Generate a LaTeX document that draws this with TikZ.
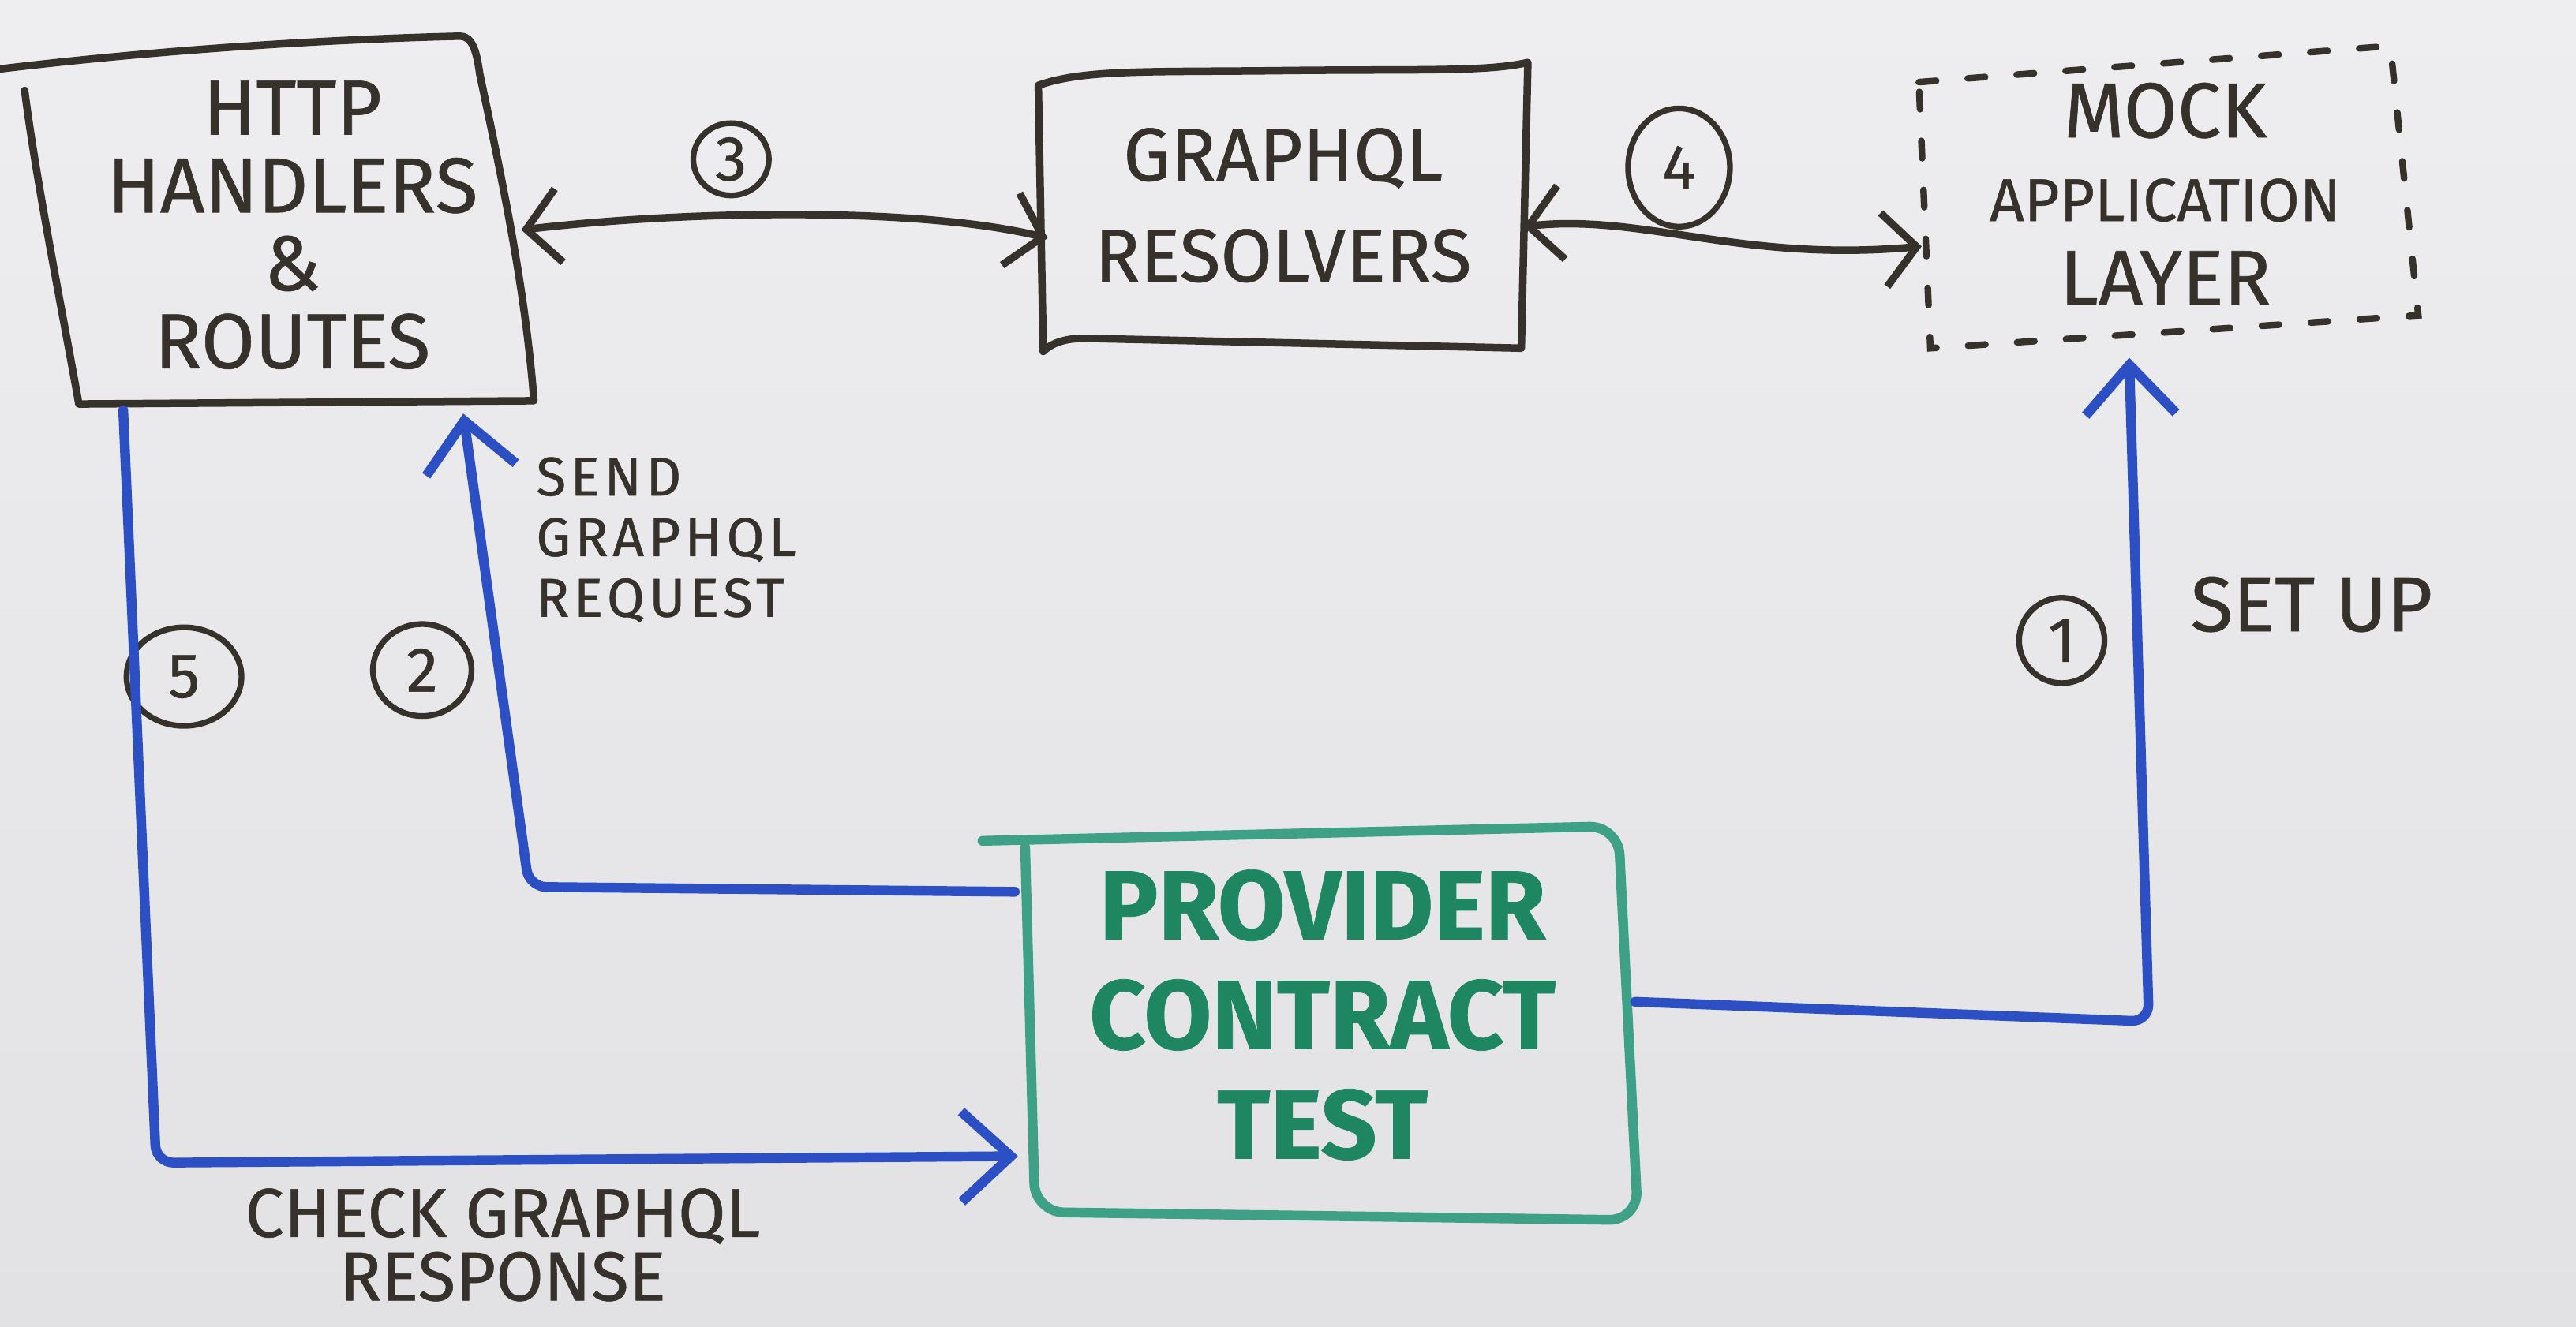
\documentclass[tikz,border=0pt]{standalone}
\usepackage{fontspec}
\setmainfont{Fira Sans}[FakeBold=0.6]
\usetikzlibrary{arrows.meta,calc,shapes.geometric}
\definecolor{bgtop}{RGB}{238,238,240}
\definecolor{bgbot}{RGB}{226,225,228}
\definecolor{ink}{RGB}{55,49,43}
\definecolor{blu}{RGB}{44,80,196}
\definecolor{grn}{RGB}{62,160,134}
\definecolor{grntxt}{RGB}{30,135,98}
\tikzset{
  boxarea/.style={draw=none, inner sep=0, align=center},
  inkline/.style={draw=ink, line width=2.6pt, line cap=round, line join=round},
  blueline/.style={draw=blu, line width=3.4pt, line cap=round, line join=round, rounded corners=6pt},
  barb/.style={-{Straight Barb[length=6mm,width=11mm]}},
  inkboth/.style={{Straight Barb[length=4mm,width=9mm]}-{Straight Barb[length=4mm,width=9mm]}},
  numc/.style={ellipse, draw=ink, line width=2pt, inner sep=0, text=ink, font=\fontsize{22}{22}\selectfont},
  lbl/.style={inner sep=0, text=ink}
}
\begin{document}
\begin{tikzpicture}[x=0.02cm,y=-0.02cm]
\useasboundingbox (0,0) rectangle (1568,808);
\shade[top color=bgtop, bottom color=bgbot] (0,0) rectangle (1568,808);

% boxes (text areas)
\node[boxarea, minimum width=5.76cm, minimum height=4.38cm, text=ink, font=\fontsize{27}{27}\selectfont] (http) at (178,137) {HTTP\\HANDLERS\\\&\\ROUTES};
\node[boxarea, minimum width=5.96cm, minimum height=3.32cm, text=ink, font=\fontsize{26}{35}\selectfont] (gql) at (781,125) {GRAPHQL\\RESOLVERS};
\node[boxarea, minimum width=6.0cm, minimum height=3.5cm, text=ink, font=\fontsize{27}{29}\selectfont] (mock) at (1318,118) {MOCK\\{\fontsize{21}{29}\selectfont APPLICATION}\\LAYER};
\node[boxarea, minimum width=7.6cm, minimum height=4.72cm, text=grntxt, font=\bfseries\fontsize{34}{38}\selectfont] (prov) at (805,618) {PROVIDER\\CONTRACT\\TEST};

% box outlines (hand drawn)
\draw[inkline] (0,42) .. controls (100,30) and (200,24) .. (280,22) .. controls (287,22) and (290,30) .. (292,45) .. controls (308,120) and (320,180) .. (325,244) -- (48,246) .. controls (38,190) and (22,110) .. (15,55);
\draw[inkline] (632,52) .. controls (660,42) and (700,44) .. (780,43) .. controls (860,42) and (905,44) .. (930,38) -- (926,212) -- (660,206) .. controls (648,206) and (640,209) .. (635,214) -- (632,52);
\draw[draw=ink, line width=2.3pt, line cap=round, dash pattern=on 6pt off 11pt] (1168,50) -- (1455,28) -- (1472,192) -- (1175,212) -- cycle;
\draw[draw=grn, line width=3.4pt, line cap=round, line join=round, rounded corners=10pt] (598,512) -- (985,503) -- (997,743) -- (630,738) -- (624,516);

% labels
\node[lbl, anchor=north west, align=left, font=\addfontfeatures{LetterSpace=8}\fontsize{19}{21}\selectfont] (sendl) at (326,278) {SEND\\GRAPHQL\\REQUEST};
\node[lbl, align=center, font=\fontsize{24}{22}\selectfont] (checkl) at (306,758) {CHECK GRAPHQL\\RESPONSE};
\node[lbl, font=\fontsize{27}{27}\selectfont] (setl) at (1407,368) {SET UP};

% numbered circles
\node[numc, minimum width=0.92cm, minimum height=0.88cm] (c3) at (445,97) {3};
\node[numc, minimum width=1.24cm, minimum height=1.44cm] (c4) at (1022,102) {4};
\node[numc, minimum width=1.04cm, minimum height=1.04cm] (c1) at (1255,390) {1};
\node[numc, minimum width=1.2cm, minimum height=1.12cm] (c2) at (257,408) {2};
\node[numc, minimum width=1.4cm, minimum height=1.2cm] (c5) at (112,412) {5};

% connectors
\draw[inkline, inkboth] ($(http.east)+(-5,3)$) .. controls (420,128) and (560,126) .. ($(gql.west)+(6,20)$);
\draw[inkline, inkboth] ($(gql.east)+(-3,13)$) .. controls (1000,130) and (1060,160) .. ($(mock.west)+(2,32)$);
\draw[blueline, barb] ($(prov.east)+(0,-8)$) -- (1308,622) -- ($(mock.south)+(-22,12)$);
\draw[blueline, barb] ($(prov.west)+(3,-75)$) -- (322,540) -- ($(http.south)+(104,5)$);
\draw[blueline, barb] ($(http.south)+(-103,3)$) -- (95,708) -- ($(prov.west)+(5,86)$);
\end{tikzpicture}
\end{document}
